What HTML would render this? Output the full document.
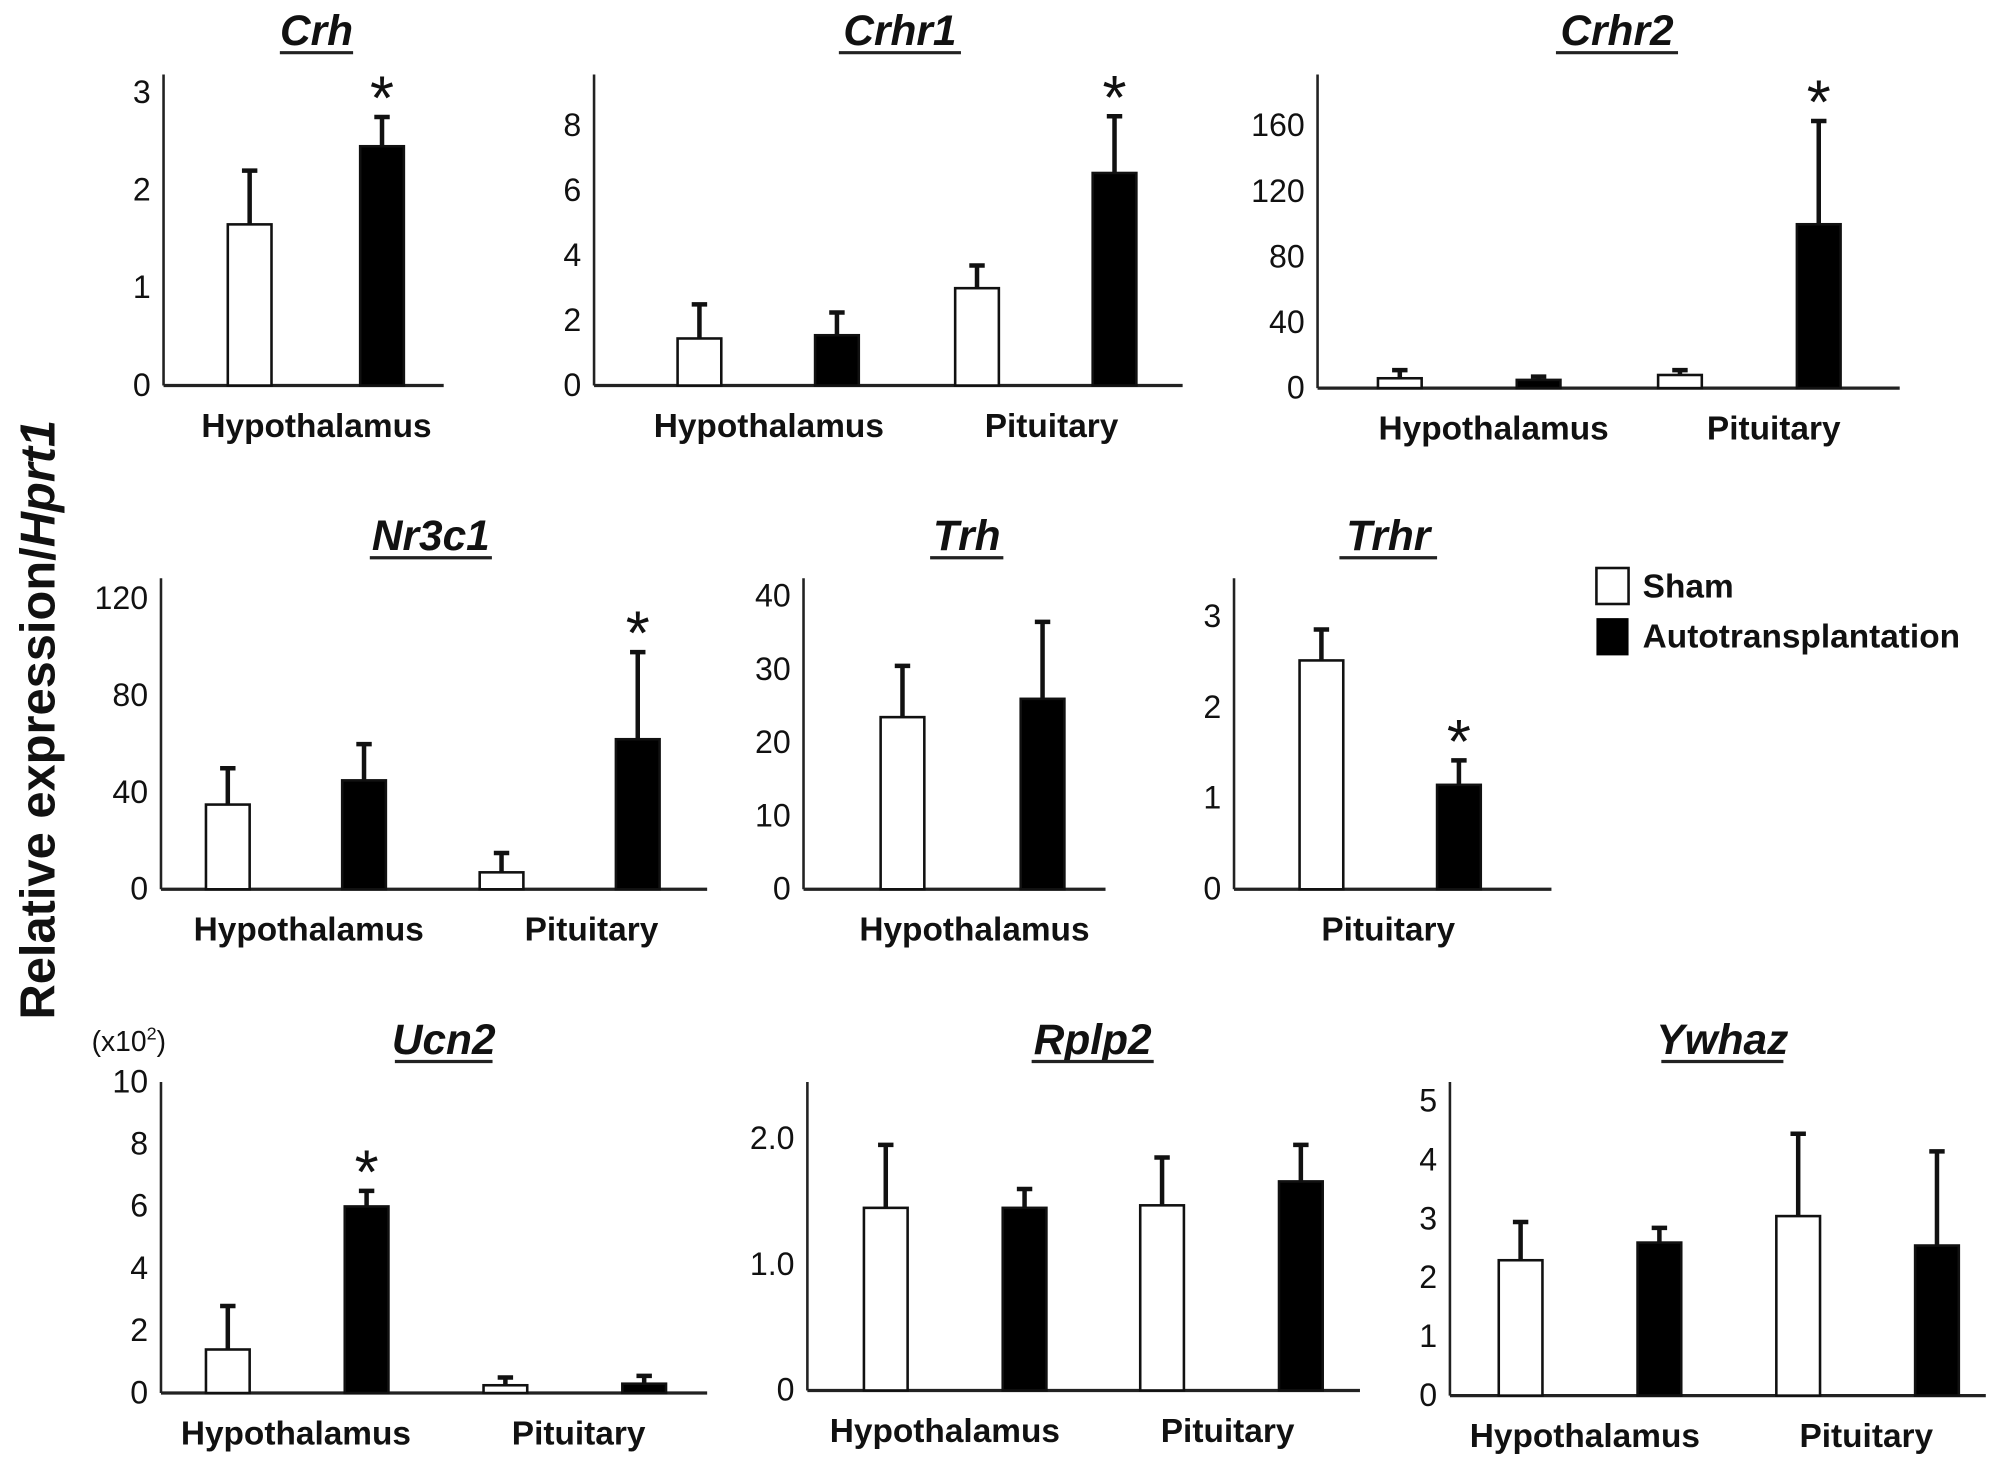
<!DOCTYPE html>
<html><head><meta charset="utf-8"><style>
html,body{margin:0;padding:0;background:#fff}
svg{display:block}
text{font-family:"Liberation Sans",Arial,sans-serif;fill:#111}
</style></head><body>
<svg id="chart" width="2008" height="1465" viewBox="0 0 1562 1140" xmlns="http://www.w3.org/2000/svg"></svg>
<script>
// ---- data ----
const crhTicks=[0,1,2,3];const crhGroups=["Hypothalamus"];
const crhSham=[1.65];const crhShamErr=[2.2];const crhAuto=[2.45];const crhAutoErr=[2.75];const crhSig=[true];
const crhr1Ticks=[0,2,4,6,8];const crhr1Groups=["Hypothalamus","Pituitary"];
const crhr1Sham=[1.45,3.0];const crhr1ShamErr=[2.5,3.7];const crhr1Auto=[1.55,6.55];const crhr1AutoErr=[2.25,8.3];const crhr1Sig=[false,true];
const crhr2Ticks=[0,40,80,120,160];const crhr2Groups=["Hypothalamus","Pituitary"];
const crhr2Sham=[6,8];const crhr2ShamErr=[11,11];const crhr2Auto=[5,100];const crhr2AutoErr=[7,163];const crhr2Sig=[false,true];
const nr3c1Ticks=[0,40,80,120];const nr3c1Groups=["Hypothalamus","Pituitary"];
const nr3c1Sham=[35,7];const nr3c1ShamErr=[50,15];const nr3c1Auto=[45,62];const nr3c1AutoErr=[60,98];const nr3c1Sig=[false,true];
const trhTicks=[0,10,20,30,40];const trhGroups=["Hypothalamus"];
const trhSham=[23.5];const trhShamErr=[30.5];const trhAuto=[26];const trhAutoErr=[36.5];const trhSig=[false];
const trhrTicks=[0,1,2,3];const trhrGroups=["Pituitary"];
const trhrSham=[2.52];const trhrShamErr=[2.86];const trhrAuto=[1.15];const trhrAutoErr=[1.42];const trhrSig=[true];
const ucn2Ticks=[0,2,4,6,8,10];const ucn2Groups=["Hypothalamus","Pituitary"];
const ucn2Sham=[1.4,0.25];const ucn2ShamErr=[2.8,0.5];const ucn2Auto=[6.0,0.3];const ucn2AutoErr=[6.5,0.55];const ucn2Sig=[true,false];
const rplp2Ticks=[0,1.0,2.0];const rplp2TickLabels=["0","1.0","2.0"];const rplp2Groups=["Hypothalamus","Pituitary"];
const rplp2Sham=[1.45,1.47];const rplp2ShamErr=[1.95,1.85];const rplp2Auto=[1.45,1.66];const rplp2AutoErr=[1.6,1.95];const rplp2Sig=[false,false];
const ywhazTicks=[0,1,2,3,4,5];const ywhazGroups=["Hypothalamus","Pituitary"];
const ywhazSham=[2.3,3.05];const ywhazShamErr=[2.95,4.45];const ywhazAuto=[2.6,2.55];const ywhazAutoErr=[2.85,4.15];const ywhazSig=[false,false];

// ---- layout ----
const panels=[
 {id:"crh",title:"Crh",ax:127,top:58,bot:300,right:345,max:3,topPx:72,tx:246,ty:35,ticks:crhTicks,groups:crhGroups,sham:crhSham,shamErr:crhShamErr,auto:crhAuto,autoErr:crhAutoErr,sig:crhSig,g0:194,gs:0,bd:103,lab:[246]},
 {id:"crhr1",title:"Crhr1",ax:462,top:58,bot:300,right:920,max:8,topPx:98,tx:700,ty:35,ticks:crhr1Ticks,groups:crhr1Groups,sham:crhr1Sham,shamErr:crhr1ShamErr,auto:crhr1Auto,autoErr:crhr1AutoErr,sig:crhr1Sig,g0:544,gs:216,bd:107,lab:[598,818]},
 {id:"crhr2",title:"Crhr2",ax:1025,top:58,bot:302,right:1478,max:160,topPx:98,tx:1258,ty:35,ticks:crhr2Ticks,groups:crhr2Groups,sham:crhr2Sham,shamErr:crhr2ShamErr,auto:crhr2Auto,autoErr:crhr2AutoErr,sig:crhr2Sig,g0:1089,gs:218,bd:108,lab:[1162,1380]},
 {id:"nr3c1",title:"Nr3c1",ax:125,top:450,bot:692,right:550,max:120,topPx:466,tx:335,ty:428,ticks:nr3c1Ticks,groups:nr3c1Groups,sham:nr3c1Sham,shamErr:nr3c1ShamErr,auto:nr3c1Auto,autoErr:nr3c1AutoErr,sig:nr3c1Sig,g0:177,gs:213,bd:106,lab:[240,460]},
 {id:"trh",title:"Trh",ax:625,top:450,bot:692,right:860,max:40,topPx:464,tx:752,ty:428,ticks:trhTicks,groups:trhGroups,sham:trhSham,shamErr:trhShamErr,auto:trhAuto,autoErr:trhAutoErr,sig:trhSig,g0:702,gs:0,bd:109,lab:[758]},
 {id:"trhr",title:"Trhr",ax:960,top:450,bot:692,right:1207,max:3,topPx:480,tx:1080,ty:428,ticks:trhrTicks,groups:trhrGroups,sham:trhrSham,shamErr:trhrShamErr,auto:trhrAuto,autoErr:trhrAutoErr,sig:trhrSig,g0:1028,gs:0,bd:107,lab:[1080]},
 {id:"ucn2",title:"Ucn2",ax:125,top:842,bot:1084,right:550,max:10,topPx:842,tx:345,ty:820,ticks:ucn2Ticks,groups:ucn2Groups,sham:ucn2Sham,shamErr:ucn2ShamErr,auto:ucn2Auto,autoErr:ucn2AutoErr,sig:ucn2Sig,g0:177,gs:216,bd:108,lab:[230,450]},
 {id:"rplp2",title:"Rplp2",ax:628,top:842,bot:1082,right:1058,max:2,topPx:886,tx:850,ty:820,ticks:rplp2Ticks,tickLabels:rplp2TickLabels,groups:rplp2Groups,sham:rplp2Sham,shamErr:rplp2ShamErr,auto:rplp2Auto,autoErr:rplp2AutoErr,sig:rplp2Sig,g0:689,gs:215,bd:108,lab:[735,955]},
 {id:"ywhaz",title:"Ywhaz",ax:1128,top:842,bot:1086,right:1545,max:5,topPx:857,tx:1340,ty:820,ticks:ywhazTicks,groups:ywhazGroups,sham:ywhazSham,shamErr:ywhazShamErr,auto:ywhazAuto,autoErr:ywhazAutoErr,sig:ywhazSig,g0:1183,gs:216,bd:108,lab:[1233,1452]}
];
const NS="http://www.w3.org/2000/svg";
const svg=document.getElementById('chart');
function mk(tag,attrs,parent,txt){const e=document.createElementNS(NS,tag);for(const k in attrs)e.setAttribute(k,attrs[k]);if(txt!==undefined)e.textContent=txt;(parent||svg).appendChild(e);return e;}
const BW=34;
panels.forEach(p=>{
 const g=mk('g',{});
 
 
 const y=v=>p.bot-(p.bot-p.topPx)*v/p.max;
 const t=mk('text',{x:p.tx,y:p.ty,'text-anchor':'middle','font-size':33,'font-weight':'bold','font-style':'italic'},g,p.title);
 
 
 const tw=p.title.length*19;
 mk('line',{x1:p.tx-tw/2,x2:p.tx+tw/2,y1:p.ty+6,y2:p.ty+6,stroke:'#222','stroke-width':2.5},g);
 const ya=mk('line',{x1:p.ax,x2:p.ax,y1:p.top,y2:p.bot,stroke:'#222','stroke-width':2},g);
 
 
 const xa=mk('line',{x1:p.ax,x2:p.right,y1:p.bot,y2:p.bot,stroke:'#222','stroke-width':2.5},g);
 
 
 p.ticks.forEach((tv,i)=>{
  const tl=mk('text',{x:p.ax-10,y:y(tv)+8,'text-anchor':'end','font-size':25},g,p.tickLabels?p.tickLabels[i]:String(tv));
  
  
 });
 p.groups.forEach((gn,i)=>{
  const lb=mk('text',{x:p.lab[i],y:p.bot+40,'text-anchor':'middle','font-size':26,'font-weight':'bold'},g,gn);
  
  
  const series=[[p.sham[i],p.shamErr[i],'#fff','sham'],[p.auto[i],p.autoErr[i],'#000','auto']];
  series.forEach((s,j)=>{
   const cx=p.g0+i*p.gs+j*p.bd;
   const r=mk('rect',{x:cx-BW/2,y:y(s[0]),width:BW,height:p.bot-y(s[0]),fill:s[2],stroke:'#111','stroke-width':2},g);
   
   
   const e=mk('path',{d:`M${cx} ${y(s[0])}V${y(s[1])}M${cx-6} ${y(s[1])}H${cx+6}`,stroke:'#111','stroke-width':3.5,fill:'none'},g);
   
   
   if(j===1&&p.sig[i]){
    const st=mk('text',{x:cx,y:y(s[1])+2,'text-anchor':'middle','font-size':48},g,'*');
    
    
   }
  });
 });
});
</script>
<svg style="position:absolute;left:0;top:0" width="2008" height="1465" viewBox="0 0 1562 1140">
 <text transform="translate(42,560) rotate(-90)" text-anchor="middle" font-size="38" font-weight="bold">Relative expression/<tspan font-style="italic">Hprt1</tspan></text>
 <text x="100" y="818" text-anchor="middle" font-size="22">(x10<tspan font-size="14" dy="-9">2</tspan><tspan dy="9">)</tspan></text>
 <rect x="1242" y="442" width="25" height="28" fill="#fff" stroke="#111" stroke-width="2"/>
 <text x="1278" y="465" font-size="26" font-weight="bold">Sham</text>
 <rect x="1242" y="481" width="25" height="29" fill="#000"/>
 <text x="1278" y="504" font-size="26" font-weight="bold">Autotransplantation</text>
</svg>
</body></html>
